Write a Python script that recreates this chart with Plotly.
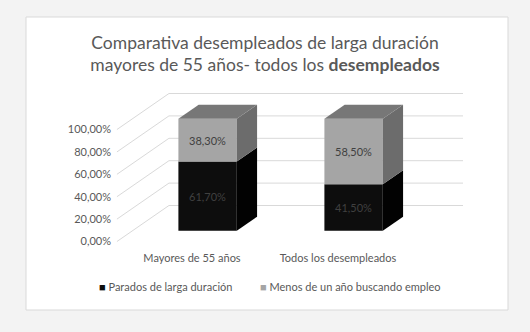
import plotly.graph_objects as go

# ---- data ----
categories = ["Mayores de 55 años", "Todos los desempleados"]
parados_larga = [0.617, 0.415]
menos_un_ano = [0.383, 0.585]
series_names = ["Parados de larga duración", "Menos de un año buscando empleo"]
y_ticks = [0.0, 0.2, 0.4, 0.6, 0.8, 1.0]

# ---- styling / geometry ----
W, H = 530, 332
ML, MR, MT, MB = 112, 60, 88, 82
PX_X, X0PX = 146.0, 192.0      # px per category unit, px of category 0 (front plane)
PX_Y, Y0PX = 112.0, 241.5      # px per 100 %, px of 0 % (front plane)
DX, DY = 52 / PX_X, 36 / PX_Y  # full depth of the 3D box in data units
F1, F2 = 0.30, 0.69            # bar front/back depth fractions
BW = 0.40                      # bar width
XL, XR = -0.514, 1.50          # wall extent on the front plane

c_black, c_black_side = "#0d0d0d", "#020202"
c_gray, c_gray_side, c_top = "#a5a5a5", "#6c6c6c", "#777777"
grid_c = "#d9d9d9"
txt_c = "#595959"
FONT = "Lato"

plot_w = W - ML - MR
plot_h = H - MT - MB
xrange = [(ML - X0PX) / PX_X, (W - MR - X0PX) / PX_X]
yrange = [(Y0PX - (H - MB)) / PX_Y, (Y0PX - MT) / PX_Y]


def px2paper_x(px):
    return (px - ML) / plot_w


def px2paper_y(py):
    return ((H - MB) - py) / plot_h


fig = go.Figure()

xs = list(range(len(categories)))
fx = [i + F1 * DX for i in xs]          # bar front-face centres
fbase = F1 * DY                          # front-face vertical shift
ddx, ddy = (F2 - F1) * DX, (F2 - F1) * DY

stacks = [(parados_larga, c_black, c_black_side), (menos_un_ano, c_gray, c_gray_side)]
bottoms = [0.0] * len(xs)
for si, (vals, col, side_col) in enumerate(stacks):
    fig.add_trace(go.Bar(
        x=fx, y=vals, base=[b + fbase for b in bottoms], width=BW,
        marker=dict(color=col, line=dict(width=0)),
        name=series_names[si], showlegend=False,
        texttemplate="%{y:.2%}", textposition="inside", insidetextanchor="middle",
        textangle=0, constraintext="none",
        textfont=dict(family=FONT, size=11, color="#404040"),
        hoverinfo="skip",
    ))
    # side faces
    for i, v in enumerate(vals):
        b = bottoms[i] + fbase
        t = b + v
        xr = fx[i] + BW / 2
        fig.add_trace(go.Scatter(
            x=[xr, xr + ddx, xr + ddx, xr, xr], y=[b, b + ddy, t + ddy, t, b],
            mode="lines", fill="toself", fillcolor=side_col,
            line=dict(width=0, color=side_col), showlegend=False, hoverinfo="skip"))
    bottoms = [bottoms[i] + vals[i] for i in range(len(xs))]

# top faces
for i in xs:
    t = bottoms[i] + fbase
    xl, xr = fx[i] - BW / 2, fx[i] + BW / 2
    fig.add_trace(go.Scatter(
        x=[xl, xr, xr + ddx, xl + ddx, xl], y=[t, t, t + ddy, t + ddy, t],
        mode="lines", fill="toself", fillcolor=c_top,
        line=dict(width=0, color=c_top), showlegend=False, hoverinfo="skip"))

shapes = [dict(type="rect", xref="paper", yref="paper",
               x0=px2paper_x(26), x1=px2paper_x(508), y0=px2paper_y(310), y1=px2paper_y(17),
               fillcolor="white", line=dict(color=grid_c, width=1), layer="below")]
for v in y_ticks:
    shapes.append(dict(type="line", xref="x", yref="y", x0=XL + DX, x1=XR + DX, y0=v + DY, y1=v + DY,
                       line=dict(color=grid_c, width=1), layer="below"))
    shapes.append(dict(type="line", xref="x", yref="y", x0=XL, x1=XL + DX, y0=v, y1=v + DY,
                       line=dict(color=grid_c, width=1), layer="below"))

annotations = []
legend_x = [97, 258]
legend_cols = [c_black, c_gray]
for k in range(2):
    annotations.append(dict(
        xref="paper", yref="paper", x=px2paper_x(legend_x[k]), y=px2paper_y(286),
        xanchor="left", yanchor="middle", showarrow=False,
        text=f'<span style="color:{legend_cols[k]}">■</span> {series_names[k]}',
        font=dict(family=FONT, size=11, color=txt_c)))

fig.update_layout(
    width=W, height=H, margin=dict(l=ML, r=MR, t=MT, b=MB),
    paper_bgcolor="#f3f3f3", plot_bgcolor="rgba(0,0,0,0)",
    separators=",.", barmode="overlay", showlegend=False,
    title=dict(text="Comparativa desempleados de larga duración<br>mayores de 55 años- todos los <b>desempleados</b>",
               x=0.5, xref="container", xanchor="center", y=1 - 48.5 / H, yref="container", yanchor="middle",
               font=dict(family=FONT, size=17.5, color=txt_c)),
    xaxis=dict(range=xrange, tickvals=xs, ticktext=categories, showgrid=False, zeroline=False,
               showline=False, ticks="", tickfont=dict(family=FONT, size=11, color=txt_c), fixedrange=True),
    yaxis=dict(range=yrange, tickvals=y_ticks, tickformat=".2%", showgrid=False, zeroline=False,
               showline=False, ticks="", tickfont=dict(family=FONT, size=11, color=txt_c), fixedrange=True),
    shapes=shapes, annotations=annotations,
)

fig.write_html("out.html")
